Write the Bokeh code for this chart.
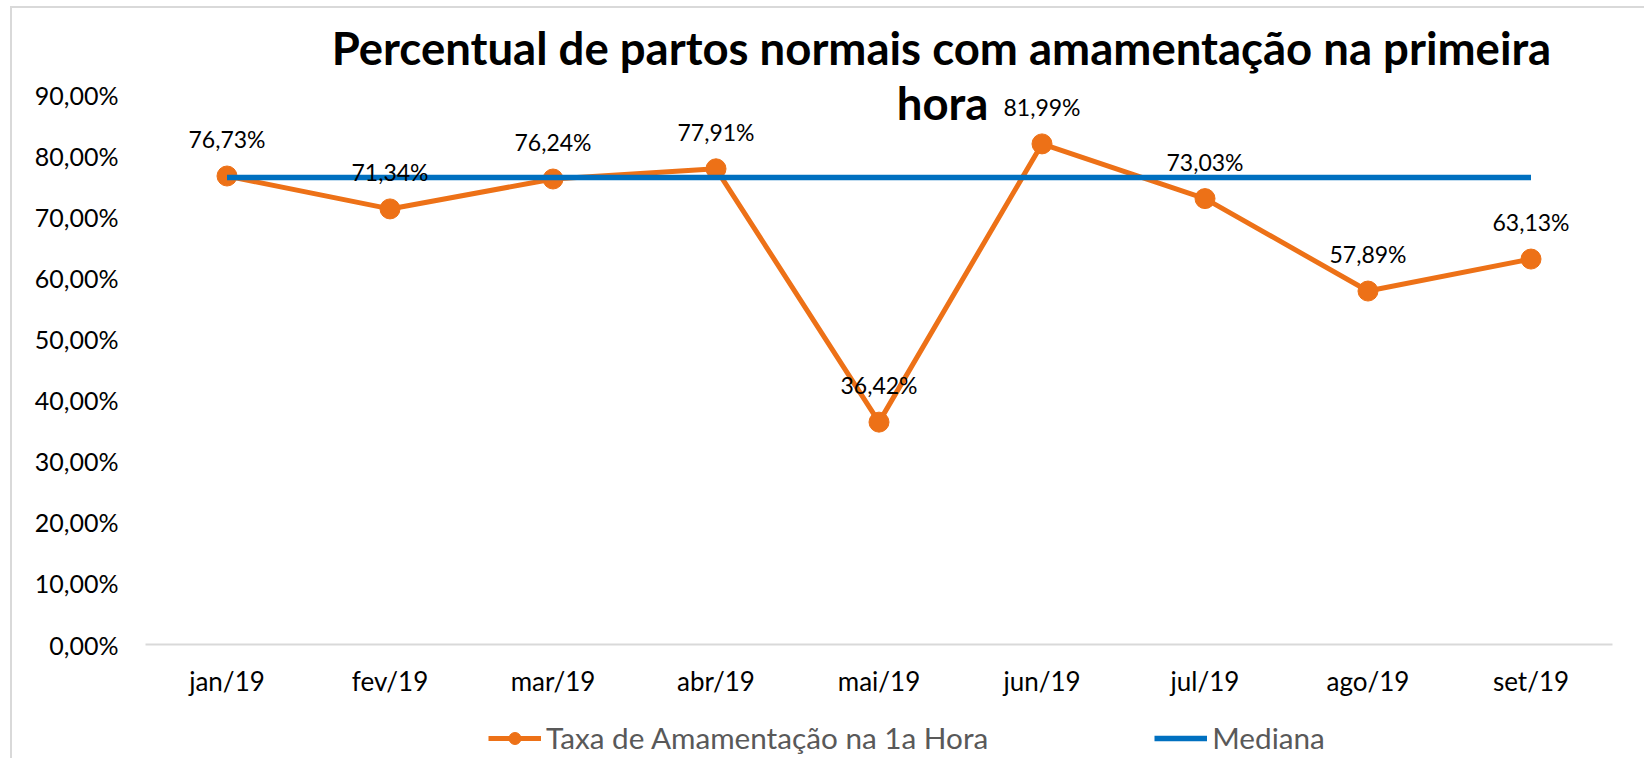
from bokeh.plotting import figure
from bokeh.layouts import column
from bokeh.models import (ColumnDataSource, FactorRange, Range1d, FixedTicker, LabelSet,
                          Label, Legend, LegendItem)
from bokeh.core.properties import value
from bokeh.embed import file_html
from bokeh.resources import INLINE

# ---- data ----
months = ["jan/19", "fev/19", "mar/19", "abr/19", "mai/19", "jun/19", "jul/19", "ago/19", "set/19"]
taxa = [0.7673, 0.7134, 0.7624, 0.7791, 0.3642, 0.8199, 0.7303, 0.5789, 0.6313]
mediana = [0.765, 0.765, 0.765, 0.765, 0.765, 0.765, 0.765, 0.765, 0.765]
y_ticks = [0.0, 0.1, 0.2, 0.3, 0.4, 0.5, 0.6, 0.7, 0.8, 0.9]
y_tick_labels = ["0,00%", "10,00%", "20,00%", "30,00%", "40,00%", "50,00%",
                 "60,00%", "70,00%", "80,00%", "90,00%"]
title_line1 = "Percentual de partos normais com amamentação na primeira"
title_line2 = "hora"
serie1_name = "Taxa de Amamentação na 1a Hora"
serie2_name = "Mediana"

FONT = "Lato"
ORANGE = "#ED7117"
BLUE = "#0070C0"

labels_txt = [("%.2f%%" % (v * 100)).replace(".", ",") for v in taxa]
src = ColumnDataSource(dict(x=months, taxa=taxa, med=mediana, lab=labels_txt))

p = figure(frame_width=1467, frame_height=624, x_range=FactorRange(*months, range_padding=0),
           y_range=Range1d(0, 1.022), output_backend="svg", toolbar_location=None,
           min_border_left=133, min_border_right=32, min_border_top=12, min_border_bottom=76)
p.outline_line_color = None
p.xgrid.grid_line_color = None
p.ygrid.grid_line_color = None
p.background_fill_color = "white"
p.border_fill_color = "white"

# axes
p.yaxis.ticker = FixedTicker(ticks=y_ticks)
p.yaxis.major_label_overrides = {t: l for t, l in zip(y_ticks, y_tick_labels)}
p.yaxis.axis_line_color = None
p.yaxis.major_tick_line_color = None
p.yaxis.minor_tick_line_color = None
p.yaxis.major_label_standoff = 21
p.yaxis.major_label_text_font = FONT
p.yaxis.major_label_text_font_size = "25px"
p.yaxis.major_label_text_color = "black"

p.xaxis.axis_line_color = "#d9d9d9"
p.xaxis.axis_line_width = 2
p.xaxis.major_tick_line_color = None
p.xaxis.minor_tick_line_color = None
p.xaxis.major_label_standoff = 14
p.xaxis.major_label_text_font = FONT
p.xaxis.major_label_text_font_size = "26px"
p.xaxis.major_label_text_color = "black"

# series
p.line("x", "taxa", source=src, line_color=ORANGE, line_width=5)
p.scatter("x", "taxa", source=src, size=20, fill_color=ORANGE, line_color=ORANGE)
p.line("x", "med", source=src, line_color=BLUE, line_width=5.5)

p.add_layout(LabelSet(x="x", y="taxa", text="lab", source=src, y_offset=37,
                      text_align="center", text_baseline="middle",
                      text_font=value(FONT), text_font_size=value("23px"),
                      text_color=value("black")))

# title
p.add_layout(Label(x=4.883, y=0.9777, text=title_line1, text_align="center",
                   text_baseline="middle", text_font=FONT, text_font_style="bold",
                   text_font_size="45.5px", text_color="black"))
p.add_layout(Label(x=4.89, y=0.8877, text=title_line2, text_align="center",
                   text_baseline="middle", text_font=FONT, text_font_style="bold",
                   text_font_size="45.5px", text_color="black"))

# legend strip (separate figure below the chart, same series styles; its
# key renderers hold one point outside the strip's visible range)
lg = figure(width=1632, height=38, x_range=Range1d(0, 1), y_range=Range1d(0, 1),
            x_axis_type=None, y_axis_type=None, output_backend="svg", toolbar_location=None,
            min_border_left=0, min_border_right=0, min_border_top=0, min_border_bottom=0)
lg.outline_line_color = None
lg.xgrid.grid_line_color = None
lg.ygrid.grid_line_color = None
key_src = ColumnDataSource(dict(x=[-5.0], y=[-5.0]))
k_line = lg.line("x", "y", source=key_src, line_color=ORANGE, line_width=5)
k_pts = lg.scatter("x", "y", source=key_src, size=20, fill_color=ORANGE, line_color=ORANGE)
k_med = lg.line("x", "y", source=key_src, line_color=BLUE, line_width=5.5)
legend = Legend(items=[LegendItem(label=serie1_name, renderers=[k_line, k_pts]),
                       LegendItem(label=serie2_name, renderers=[k_med])],
                location=(343, 3), orientation="horizontal", spacing=166,
                glyph_width=53, glyph_height=30, label_height=30, label_standoff=5,
                padding=0, margin=0, border_line_color=None, background_fill_alpha=0,
                label_text_font=FONT, label_text_font_size="29.7px",
                label_text_color="#595959")
lg.add_layout(legend)

lay = column(p, lg, spacing=0)
lay.styles = {"border-left": "2px solid #d9d9d9", "border-top": "2px solid #d9d9d9",
              "margin-left": "10px", "margin-top": "6px"}

open("out.html", "w").write(file_html(lay, INLINE))
